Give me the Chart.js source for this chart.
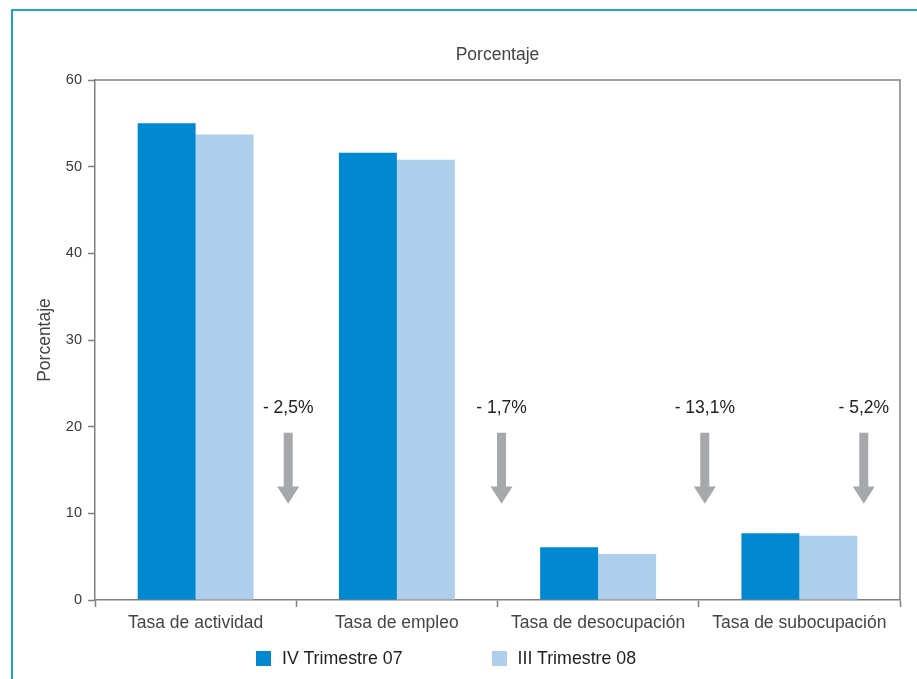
<!DOCTYPE html>
<html>
<head>
<meta charset="utf-8">
<script src="https://cdn.jsdelivr.net/npm/chart.js@4.4.0/dist/chart.umd.min.js"></script>
<style>
    body { margin: 0; background: #fff; font-family: "Liberation Sans", Arial, sans-serif; }
    #frame {
        position: absolute; left: 11px; top: 9px; width: 1000px; height: 800px;
        border-left: 2px solid #1fa0d8; border-top: 2px solid #1fa0d8;
    }
    #wrap { position: absolute; left: 0; top: 0; width: 917px; height: 679px; }
    #legend {
        position: absolute; left: 256px; top: 648px;
        display: flex; font-size: 17.8px; color: #1e1e1e;
    }
    .item { display: flex; align-items: center; margin-right: 89px; }
    .box { width: 15px; height: 15px; margin-right: 11px; }
</style>
</head>
<body>
<div id="frame"></div>
<div id="wrap"><canvas id="chart" width="917" height="679"></canvas></div>
<div id="legend"></div>
<script>
// Datos
const categories = ['Tasa de actividad', 'Tasa de empleo', 'Tasa de desocupación', 'Tasa de subocupación'];
const trimestreIV07 = [55.0, 51.6, 6.1, 7.7];
const trimestreIII08 = [53.7, 50.8, 5.3, 7.4];
const seriesLabels = ['IV Trimestre 07', 'III Trimestre 08'];
const variationLabels = ['- 2,5%', '- 1,7%', '- 13,1%', '- 5,2%'];
const yTicks = [0, 10, 20, 30, 40, 50, 60];

const FONT = '"Liberation Sans", Arial, sans-serif';
const AXIS_GREY = '#808080';

// Flechas de variacion (posicion en unidades de categoria / eje y)
const arrowPlugin = {
    id: 'arrows',
    afterDatasetsDraw(chart, args, opts) {
        const { ctx, scales: { x, y } } = chart;
        ctx.save();
        opts.offsets.forEach((off, i) => {
            const cx = x.getPixelForValue(off);
            const top = y.getPixelForValue(opts.shaftTop);
            const neck = y.getPixelForValue(opts.headStart);
            const tip = y.getPixelForValue(opts.tip);

            ctx.fillStyle = '#a7a8ab';
            ctx.fillRect(cx - 4.5, top, 9, neck - top + 1);
            ctx.beginPath();
            ctx.moveTo(cx - 11, neck);
            ctx.lineTo(cx + 11, neck);
            ctx.lineTo(cx, tip);
            ctx.closePath();
            ctx.fill();

            ctx.fillStyle = '#222';
            ctx.font = '17.5px ' + FONT;
            ctx.textAlign = 'center';
            ctx.textBaseline = 'middle';
            ctx.fillText(variationLabels[i], cx, y.getPixelForValue(opts.labelAt));
        });
        ctx.restore();
    }
};

// Marco del area de grafico (lineas superior y derecha)
const framePlugin = {
    id: 'frameBox',
    beforeDatasetsDraw(chart) {
        const { ctx, chartArea: a } = chart;
        ctx.save();
        ctx.strokeStyle = AXIS_GREY;
        ctx.lineWidth = 1.5;
        ctx.beginPath();
        ctx.moveTo(a.left, a.top);
        ctx.lineTo(a.right, a.top);
        ctx.lineTo(a.right, a.bottom);
        ctx.stroke();
        ctx.restore();
    }
};

const chart = new Chart(document.getElementById('chart'), {
    type: 'bar',
    data: {
        labels: categories,
        datasets: [
            { label: seriesLabels[0], data: trimestreIV07, backgroundColor: '#0088d0' },
            { label: seriesLabels[1], data: trimestreIII08, backgroundColor: '#aecfec' }
        ]
    },
    options: {
        responsive: false,
        animation: false,
        layout: { padding: { left: 31, right: 17, top: 0, bottom: 47 } },
        datasets: { bar: { barPercentage: 1, categoryPercentage: 0.576 } },
        scales: {
            x: {
                afterFit(scale) { scale.height = 32; },
                grid: { offset: true, drawOnChartArea: false, tickLength: 7, tickColor: AXIS_GREY, tickWidth: 1.5 },
                border: { color: AXIS_GREY, width: 1.5 },
                ticks: { color: '#444', font: { family: FONT, size: 17.5 }, padding: 6, maxRotation: 0, autoSkip: false }
            },
            y: {
                min: 0,
                max: 60,
                afterFit(scale) { scale.width = 64; },
                afterBuildTicks(scale) { scale.ticks = yTicks.map(v => ({ value: v })); },
                grid: { drawOnChartArea: false, tickLength: 7, tickColor: AXIS_GREY, tickWidth: 1.5 },
                border: { color: AXIS_GREY, width: 1.5 },
                ticks: { color: '#3a3a3a', font: { family: FONT, size: 14.5 }, padding: 6 },
                title: { display: true, text: 'Porcentaje', color: '#444', font: { family: FONT, size: 17.5 } }
            }
        },
        plugins: {
            legend: { display: false },
            tooltip: { enabled: false },
            title: {
                display: true,
                text: 'Porcentaje',
                fullSize: false,
                color: '#444',
                font: { family: FONT, size: 17.5, weight: 'normal' },
                padding: { top: 45, bottom: 14 }
            },
            arrows: {
                offsets: [0.46, 1.52, 2.53, 3.32],
                shaftTop: 19.3,
                headStart: 13.1,
                tip: 11.1,
                labelAt: 22.15
            }
        }
    },
    plugins: [framePlugin, arrowPlugin]
});

// Leyenda HTML
const legendEl = document.getElementById('legend');
chart.data.datasets.forEach(ds => {
    const item = document.createElement('div');
    item.className = 'item';
    item.innerHTML = `<span class="box" style="background:${ds.backgroundColor}"></span><span>${ds.label}</span>`;
    legendEl.appendChild(item);
});
</script>
</body>
</html>
